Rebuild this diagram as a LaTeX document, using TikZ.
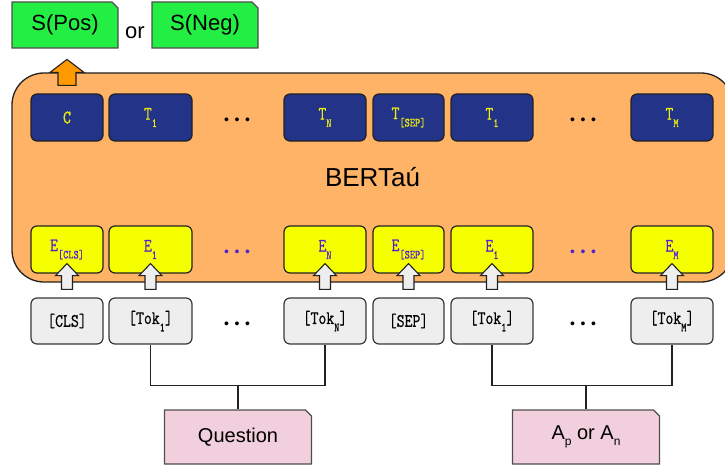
\documentclass[tikz,border=0pt]{standalone}
\usepackage{fontspec}
\setmainfont{Liberation Sans}
\newfontfamily\cellfont{Latin Modern Mono}[BoldFont={Latin Modern Mono}, BoldFeatures={FakeBold=0.8}]
\usetikzlibrary{shapes.misc,calc}

\definecolor{bertorange}{RGB}{255,179,102}
\definecolor{arroworange}{RGB}{255,153,0}
\definecolor{tblue}{RGB}{34,51,136}
\definecolor{tyellow}{RGB}{236,236,20}
\definecolor{eyellow}{RGB}{245,255,0}
\definecolor{epurple}{RGB}{85,34,204}
\definecolor{tokgray}{RGB}{238,238,238}
\definecolor{inpink}{RGB}{242,207,220}
\definecolor{outgreen}{RGB}{34,238,68}
\definecolor{edge}{RGB}{34,34,34}

% cell label: slightly narrow, tall typewriter text
\newcommand\cl[1]{\scalebox{0.9}[1.12]{#1}}
% lowered, smaller index after a token name
\newcommand\lowsub[1]{\raisebox{-6.5pt}{\fontsize{11}{11}\selectfont #1}}
\newcommand\sanssub[1]{\raisebox{-6pt}{\fontsize{12}{12}\selectfont #1}}

% white block arrow from a token cell up into its embedding cell
\newcommand\feedarrow[2]{%
  \draw[blockarrow] let \p1=(#1.north), \p2=(#2.south) in
    (\x1-5.5pt,\y1+8pt) -- (\x1-5.5pt,\y2-2pt) -- (\x1-11.5pt,\y2-2pt)
    -- (\x1,\y2+10pt) -- (\x1+11.5pt,\y2-2pt) -- (\x1+5.5pt,\y2-2pt)
    -- (\x1+5.5pt,\y1+8pt) -- cycle;}

\tikzset{
  cell/.style={rounded corners=6pt, draw=edge, line width=1.2pt,
    minimum height=47pt, inner sep=0pt,
    font=\cellfont\bfseries\fontsize{17}{17}\selectfont},
  tcell/.style={cell, fill=tblue, text=tyellow},
  ecell/.style={cell, fill=eyellow, text=epurple},
  tokcell/.style={cell, fill=tokgray, text=black, minimum height=46pt, draw=edge!90},
  notched/.style={chamfered rectangle, chamfered rectangle corners=north east,
    chamfered rectangle xsep=3pt, chamfered rectangle ysep=3pt,
    draw=edge!80, line width=1.2pt, inner sep=0pt},
  outbox/.style={notched, fill=outgreen, minimum width=106pt, minimum height=46pt,
    font=\fontsize{22}{22}\selectfont},
  inbox/.style={notched, fill=inpink, minimum width=147pt, minimum height=54pt,
    font=\fontsize{20}{20}\selectfont},
  dots/.style={inner sep=0pt, font=\fontsize{14}{14}\selectfont},
  blockarrow/.style={draw=edge, line width=1.1pt, fill=tokgray, line join=miter},
  link/.style={draw=edge, line width=1.1pt},
}

\newcommand\threedots{\textbullet\hspace{5.6pt}\textbullet\hspace{5.6pt}\textbullet}

\begin{document}
\begin{tikzpicture}[x=1pt,y=-1pt]
\useasboundingbox (0,0) rectangle (725,468);

% outputs
\node[outbox] (spos) at (65,25) {S(Pos)};
\node[outbox] (sneg) at (205,25) {S(Neg)};
\node[font=\fontsize{22}{22}\selectfont, inner sep=0pt] (orword) at (135,33) {or};

% encoder body
\node[draw=edge, line width=1.3pt, fill=bertorange, rounded corners=32pt,
  minimum width=721pt, minimum height=209pt, inner sep=0pt,
  font=\fontsize{26}{26}\selectfont] (bert) at (372.5,177.5) {BERTaú};

% output vectors
\node[tcell, minimum width=72pt] (c)    at (67,117.5)    {\cl{C}};
\node[tcell, minimum width=83pt] (t1a)  at (150.5,117.5) {\cl{T\lowsub{1}}};
\node[tcell, minimum width=82pt] (tn)   at (325,117.5)   {\cl{T\lowsub{N}}};
\node[tcell, minimum width=71pt] (tsep) at (408.5,117.5) {\cl{T\lowsub{[SEP]}}};
\node[tcell, minimum width=82pt] (t1b)  at (492,117.5)   {\cl{T\lowsub{1}}};
\node[tcell, minimum width=82pt] (tm)   at (672,117.5)   {\cl{T\lowsub{M}}};
\node[dots] (tdotsa) at (237,121) {\threedots};
\node[dots] (tdotsb) at (583,121) {\threedots};

% embeddings
\node[ecell, minimum width=72pt] (ecls) at (67,249.5)    {\cl{E\lowsub{[CLS]}}};
\node[ecell, minimum width=83pt] (e1a)  at (150.5,249.5) {\cl{E\lowsub{1}}};
\node[ecell, minimum width=82pt] (en)   at (325,249.5)   {\cl{E\lowsub{N}}};
\node[ecell, minimum width=71pt] (esep) at (408.5,249.5) {\cl{E\lowsub{[SEP]}}};
\node[ecell, minimum width=82pt] (e1b)  at (492,249.5)   {\cl{E\lowsub{1}}};
\node[ecell, minimum width=82pt] (em)   at (672,249.5)   {\cl{E\lowsub{M}}};
\node[dots, text=epurple] (edotsa) at (237,253) {\threedots};
\node[dots, text=epurple] (edotsb) at (583,253) {\threedots};

% input tokens
\node[tokcell, minimum width=72pt] (kcls) at (67,321)    {\cl{[CLS]}};
\node[tokcell, minimum width=83pt] (k1a)  at (150.5,321) {\cl{[Tok\lowsub{1}]}};
\node[tokcell, minimum width=82pt] (kn)   at (325,321)   {\cl{[Tok\lowsub{N}]}};
\node[tokcell, minimum width=71pt] (ksep) at (408.5,321) {\cl{[SEP]}};
\node[tokcell, minimum width=82pt] (k1b)  at (492,321)   {\cl{[Tok\lowsub{1}]}};
\node[tokcell, minimum width=82pt] (km)   at (672,321)   {\cl{[Tok\lowsub{M}]}};
\node[dots] (kdotsa) at (237,325) {\threedots};
\node[dots] (kdotsb) at (583,325) {\threedots};

% input texts
\node[inbox] (question) at (238,437) {Question};
\node[inbox] (answer)   at (586,437) {A\sanssub{p} or A\sanssub{n}};

% token embeddings fed into the encoder
\feedarrow{kcls}{ecls}
\feedarrow{k1a}{e1a}
\feedarrow{kn}{en}
\feedarrow{ksep}{esep}
\feedarrow{k1b}{e1b}
\feedarrow{km}{em}

% classification output
\draw[blockarrow, fill=arroworange] let \p1=(c.north) in
  (\x1-9pt,\y1+8pt) -- (\x1-9pt,\y1+21pt) -- (\x1-17pt,\y1+21pt)
  -- (\x1,\y1+34pt) -- (\x1+17pt,\y1+21pt) -- (\x1+9pt,\y1+21pt)
  -- (\x1+9pt,\y1+8pt) -- cycle;

% tokenisation brackets
\coordinate (qbar) at ($(k1a.south)+(0,41)$);
\coordinate (abar) at ($(k1b.south)+(0,41)$);
\draw[link] (k1a.south) |- (qbar) -| (kn.south);
\draw[link] (question.north) -- (question.north |- qbar);
\draw[link] (k1b.south) |- (abar) -| (km.south);
\draw[link] (answer.north) -- (answer.north |- abar);
\end{tikzpicture}
\end{document}
